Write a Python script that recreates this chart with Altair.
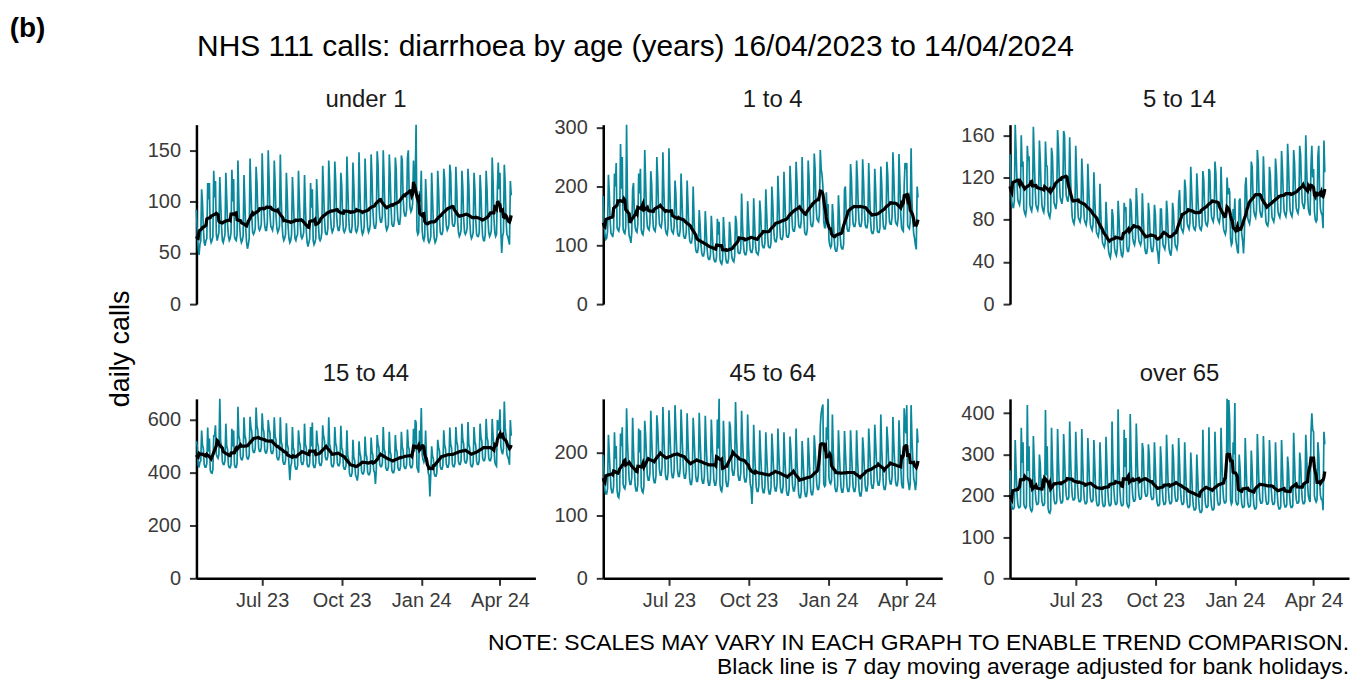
import altair as alt
import pandas as pd

# ---------------- data (daily NHS 111 calls, Sun..Sat per row) ----------------
START = "2023-04-16"
N_DAYS = 365

under_1 = [
    92, 70, 55, 48, 58, 62, 112,
    99, 74, 60, 57, 62, 64, 118,
    102, 118, 64, 60, 62, 66, 130,
    104, 120, 68, 62, 66, 70, 124,
    100, 76, 62, 60, 64, 68, 128,
    104, 78, 66, 62, 64, 70, 131,
    100, 122, 66, 63, 62, 68, 140,
    102, 75, 64, 60, 62, 67, 126,
    98, 74, 60, 54, 58, 64, 142,
    112, 86, 70, 68, 70, 74, 134,
    118, 88, 74, 72, 74, 78, 147,
    116, 90, 76, 72, 72, 80, 150,
    122, 88, 76, 74, 72, 78, 140,
    118, 86, 74, 70, 72, 76, 146,
    104, 78, 66, 62, 64, 68, 128,
    106, 76, 64, 60, 62, 68, 124,
    104, 80, 64, 62, 66, 68, 130,
    102, 78, 66, 64, 66, 70, 126,
    96, 72, 60, 56, 60, 64, 118,
    94, 112, 62, 58, 60, 64, 122,
    100, 78, 64, 62, 64, 70, 135,
    112, 84, 70, 68, 68, 74, 140,
    118, 86, 74, 70, 72, 76, 139,
    120, 88, 76, 72, 72, 78, 128,
    116, 86, 72, 70, 72, 76, 144,
    114, 86, 72, 70, 70, 76, 138,
    116, 88, 72, 70, 72, 78, 148,
    112, 86, 72, 68, 70, 76, 142,
    116, 88, 74, 70, 72, 78, 146,
    124, 92, 78, 74, 74, 80, 149,
    136, 98, 84, 80, 80, 86, 150,
    122, 90, 76, 72, 74, 78, 146,
    126, 94, 78, 76, 76, 82, 143,
    132, 96, 82, 78, 78, 86, 145,
    140, 104, 90, 86, 86, 92, 142,
    150, 108, 94, 90, 92, 98, 140,
    118, 120, 175, 72, 68, 70, 110,
    100, 130, 72, 64, 62, 66, 122,
    102, 76, 62, 60, 62, 66, 128,
    104, 78, 64, 60, 62, 66, 130,
    112, 84, 70, 68, 68, 72, 132,
    122, 90, 76, 72, 74, 78, 136,
    128, 92, 78, 76, 76, 80, 134,
    112, 82, 70, 66, 68, 72, 130,
    114, 84, 70, 68, 70, 74, 132,
    116, 82, 68, 64, 66, 70, 128,
    112, 82, 68, 66, 66, 70, 126,
    110, 80, 66, 62, 62, 68, 130,
    112, 84, 70, 66, 68, 72, 143,
    120, 84, 70, 66, 68, 112, 138,
    112, 128, 72, 50, 66, 70, 136,
    118, 84, 68, 66, 62, 58, 120,
    106,
]

age_1_4 = [
    184, 140, 118, 110, 112, 124, 220,
    190, 142, 120, 118, 114, 126, 222,
    200, 240, 130, 126, 124, 134, 272,
    196, 250, 128, 122, 120, 130, 305,
    180, 138, 116, 112, 104, 122, 195,
    206, 154, 130, 124, 122, 136, 222,
    188, 230, 126, 120, 118, 130, 262,
    210, 156, 132, 128, 126, 138, 226,
    204, 156, 130, 126, 124, 136, 250,
    214, 162, 136, 132, 130, 142, 258,
    198, 152, 126, 120, 118, 132, 265,
    196, 148, 126, 122, 120, 132, 210,
    188, 142, 120, 116, 116, 126, 222,
    180, 138, 116, 112, 112, 122, 210,
    170, 128, 108, 104, 104, 114, 200,
    148, 110, 92, 88, 88, 98, 160,
    136, 102, 86, 82, 82, 90, 158,
    128, 96, 80, 76, 76, 84, 150,
    122, 92, 76, 72, 72, 80, 145,
    118, 140, 76, 70, 68, 76, 148,
    118, 90, 74, 70, 70, 78, 140,
    122, 92, 78, 74, 72, 82, 150,
    140, 106, 88, 86, 86, 94, 188,
    138, 104, 88, 84, 84, 92, 175,
    142, 108, 92, 88, 88, 96, 180,
    140, 104, 88, 86, 84, 92, 176,
    156, 118, 100, 96, 96, 104, 195,
    154, 118, 98, 96, 96, 104, 200,
    172, 130, 110, 106, 106, 116, 218,
    178, 134, 112, 110, 110, 118, 225,
    182, 138, 116, 114, 114, 122, 235,
    200, 152, 128, 124, 124, 134, 242,
    210, 160, 134, 130, 130, 142, 250,
    192, 146, 122, 118, 118, 128, 244,
    214, 162, 136, 132, 132, 142, 256,
    230, 172, 146, 142, 140, 152, 262,
    230, 220, 200, 140, 130, 130, 190,
    150, 170, 110, 100, 96, 100, 170,
    148, 112, 94, 90, 90, 100, 185,
    152, 116, 98, 94, 94, 102, 195,
    200, 152, 128, 124, 124, 134, 238,
    214, 162, 136, 132, 132, 142, 244,
    212, 162, 136, 132, 132, 142, 246,
    210, 160, 134, 130, 130, 140, 240,
    192, 146, 124, 120, 120, 128, 230,
    196, 148, 124, 122, 122, 130, 234,
    206, 156, 132, 128, 128, 138, 242,
    220, 168, 140, 136, 136, 148, 258,
    218, 166, 140, 136, 134, 146, 255,
    210, 154, 130, 126, 124, 200, 240,
    230, 240, 134, 130, 128, 140, 265,
    176, 142, 120, 112, 100, 93, 200,
    181,
]

age_5_14 = [
    142, 114, 97, 93, 91, 98, 170,
    146, 117, 99, 96, 94, 100, 160,
    130, 135, 90, 86, 84, 90, 150,
    136, 140, 94, 90, 88, 94, 168,
    139, 111, 94, 91, 89, 95, 155,
    136, 109, 93, 89, 87, 94, 154,
    132, 130, 88, 84, 82, 88, 148,
    141, 113, 96, 93, 90, 97, 165,
    149, 119, 101, 98, 95, 102, 164,
    160, 121, 103, 99, 97, 104, 158,
    120, 96, 82, 78, 76, 82, 150,
    121, 97, 82, 80, 78, 83, 138,
    118, 94, 80, 77, 75, 81, 133,
    110, 88, 75, 72, 70, 76, 125,
    100, 80, 68, 66, 64, 69, 114,
    85, 68, 58, 56, 54, 58, 97,
    78, 60, 50, 46, 44, 50, 90,
    84, 64, 52, 48, 46, 52, 98,
    82, 62, 52, 46, 45, 50, 96,
    88, 92, 54, 50, 50, 56, 100,
    96, 76, 62, 58, 56, 62, 110,
    94, 72, 60, 58, 56, 60, 105,
    84, 64, 52, 48, 48, 54, 96,
    86, 66, 54, 50, 50, 56, 94,
    86, 64, 52, 48, 38, 54, 90,
    90, 68, 56, 54, 52, 58, 98,
    86, 64, 52, 48, 46, 54, 96,
    88, 68, 56, 54, 52, 58, 98,
    108, 85, 72, 70, 68, 73, 118,
    110, 89, 76, 73, 71, 77, 130,
    108, 87, 74, 71, 70, 75, 124,
    106, 87, 74, 71, 70, 75, 126,
    118, 92, 78, 75, 74, 79, 128,
    126, 98, 83, 80, 78, 84, 135,
    124, 96, 82, 79, 77, 83, 130,
    102, 83, 71, 68, 66, 71, 120,
    104, 110, 106, 62, 56, 58, 90,
    80, 100, 62, 56, 50, 48, 98,
    100, 78, 66, 60, 48, 66, 112,
    120, 95, 81, 78, 76, 82, 135,
    130, 103, 88, 84, 82, 89, 146,
    134, 103, 88, 84, 82, 89, 140,
    116, 92, 78, 75, 74, 79, 130,
    122, 97, 82, 80, 78, 83, 138,
    126, 102, 87, 84, 82, 88, 145,
    128, 104, 88, 85, 83, 89, 152,
    132, 104, 88, 85, 83, 89, 146,
    134, 107, 91, 88, 86, 92, 150,
    142, 113, 96, 93, 90, 97, 160,
    128, 106, 90, 86, 84, 130, 150,
    120, 128, 88, 80, 78, 80, 140,
    150, 106, 90, 86, 84, 72, 155,
    125,
]

age_15_44 = [
    520, 500, 430, 420, 440, 445, 560,
    505, 491, 431, 421, 421, 435, 571,
    480, 530, 410, 400, 398, 412, 540,
    540, 580, 470, 460, 455, 470, 680,
    518, 504, 442, 432, 432, 446, 586,
    502, 488, 428, 419, 419, 432, 567,
    500, 560, 430, 420, 420, 435, 650,
    540, 525, 460, 450, 450, 465, 610,
    542, 527, 462, 452, 452, 467, 612,
    572, 557, 488, 477, 477, 493, 647,
    577, 561, 491, 481, 481, 497, 625,
    570, 554, 486, 475, 475, 491, 600,
    567, 551, 483, 473, 473, 488, 610,
    540, 525, 460, 450, 450, 465, 610,
    519, 505, 443, 433, 433, 447, 587,
    508, 494, 432, 372, 423, 437, 573,
    497, 483, 423, 414, 414, 428, 561,
    518, 504, 442, 432, 432, 446, 586,
    508, 494, 432, 423, 423, 437, 573,
    500, 590, 430, 420, 420, 440, 560,
    513, 499, 437, 428, 428, 442, 580,
    540, 525, 460, 450, 450, 465, 610,
    508, 494, 432, 423, 423, 437, 573,
    512, 498, 436, 427, 427, 441, 578,
    497, 483, 423, 414, 414, 428, 561,
    464, 452, 396, 387, 387, 400, 525,
    459, 446, 391, 383, 370, 395, 519,
    475, 462, 405, 396, 396, 409, 537,
    472, 459, 402, 393, 393, 406, 533,
    481, 467, 409, 400, 358, 414, 543,
    508, 494, 432, 423, 423, 437, 573,
    491, 478, 419, 410, 410, 423, 555,
    481, 467, 409, 400, 400, 414, 543,
    491, 478, 419, 410, 410, 423, 555,
    499, 485, 425, 416, 416, 430, 564,
    502, 488, 428, 419, 419, 432, 567,
    480, 600, 590, 420, 410, 400, 560,
    500, 645, 470, 450, 440, 450, 560,
    460, 450, 400, 390, 310, 400, 500,
    464, 452, 396, 387, 387, 400, 525,
    497, 483, 423, 414, 414, 428, 561,
    505, 491, 431, 421, 421, 435, 571,
    508, 494, 432, 423, 423, 437, 573,
    518, 504, 442, 432, 432, 446, 586,
    524, 509, 446, 437, 437, 451, 592,
    508, 494, 432, 423, 423, 437, 573,
    518, 504, 442, 432, 432, 446, 586,
    535, 520, 455, 446, 446, 460, 604,
    535, 520, 455, 446, 446, 460, 604,
    540, 500, 440, 430, 425, 600, 580,
    560, 640, 500, 480, 470, 490, 670,
    570, 540, 470, 460, 450, 430, 600,
    540,
]

age_45_64 = [
    196, 166, 140, 134, 134, 143, 228,
    199, 169, 143, 136, 136, 146, 232,
    190, 210, 140, 130, 128, 140, 230,
    210, 240, 150, 144, 142, 150, 270,
    218, 186, 157, 149, 149, 160, 255,
    204, 173, 146, 139, 139, 150, 238,
    200, 235, 145, 138, 136, 146, 250,
    228, 194, 163, 156, 156, 167, 266,
    222, 189, 159, 152, 152, 163, 259,
    240, 204, 172, 164, 164, 176, 272,
    229, 195, 164, 157, 157, 168, 267,
    234, 199, 168, 160, 160, 172, 275,
    238, 202, 170, 162, 162, 174, 268,
    233, 198, 167, 159, 159, 171, 262,
    218, 186, 157, 149, 149, 160, 255,
    226, 192, 162, 154, 154, 165, 263,
    221, 188, 158, 151, 151, 162, 258,
    216, 184, 155, 148, 148, 158, 252,
    216, 184, 155, 148, 148, 158, 252,
    206, 285, 150, 140, 138, 148, 250,
    214, 182, 153, 146, 146, 157, 249,
    240, 204, 172, 164, 164, 176, 280,
    228, 194, 163, 156, 156, 167, 266,
    223, 190, 160, 153, 153, 164, 260,
    209, 177, 150, 143, 118, 153, 244,
    202, 171, 144, 138, 138, 148, 235,
    199, 169, 143, 136, 136, 146, 232,
    197, 167, 141, 134, 134, 144, 230,
    204, 173, 146, 139, 139, 150, 238,
    199, 169, 143, 136, 136, 146, 232,
    193, 164, 138, 132, 132, 142, 225,
    204, 173, 146, 139, 139, 150, 238,
    187, 159, 134, 128, 128, 137, 218,
    191, 162, 137, 130, 130, 140, 223,
    194, 165, 139, 133, 133, 143, 227,
    206, 175, 148, 141, 141, 151, 241,
    262, 270, 276, 150, 146, 148, 240,
    220, 285, 160, 152, 150, 156, 260,
    202, 171, 144, 138, 138, 148, 235,
    200, 170, 144, 137, 137, 147, 234,
    202, 171, 144, 138, 138, 148, 235,
    202, 171, 144, 138, 138, 148, 235,
    192, 163, 138, 131, 131, 141, 224,
    204, 173, 146, 139, 139, 150, 238,
    209, 177, 150, 143, 143, 153, 244,
    216, 184, 155, 148, 148, 158, 260,
    206, 175, 148, 141, 141, 151, 241,
    220, 187, 157, 150, 150, 161, 256,
    215, 183, 154, 147, 147, 158, 251,
    211, 180, 151, 144, 144, 270, 246,
    230, 275, 160, 150, 140, 150, 275,
    222, 189, 159, 152, 140, 152, 238,
    215,
]

over_65 = [
    262, 204, 176, 168, 168, 172, 335,
    267, 208, 180, 171, 171, 175, 365,
    280, 330, 180, 172, 170, 175, 420,
    260, 320, 175, 165, 162, 168, 345,
    281, 219, 189, 179, 179, 184, 300,
    277, 216, 186, 177, 177, 182, 408,
    250, 320, 170, 160, 158, 165, 365,
    283, 220, 190, 181, 181, 186, 362,
    287, 223, 193, 183, 183, 188, 350,
    299, 233, 201, 191, 191, 196, 380,
    296, 231, 199, 190, 190, 194, 355,
    290, 226, 195, 186, 186, 190, 362,
    283, 220, 190, 181, 181, 186, 340,
    290, 226, 195, 186, 186, 190, 335,
    275, 214, 185, 176, 176, 180, 330,
    272, 212, 183, 174, 174, 178, 343,
    276, 215, 185, 176, 176, 181, 380,
    281, 219, 189, 179, 179, 184, 410,
    275, 214, 185, 176, 176, 180, 360,
    270, 340, 185, 175, 172, 178, 398,
    293, 228, 197, 187, 187, 192, 375,
    300, 234, 202, 192, 192, 197, 328,
    311, 242, 209, 199, 199, 204, 325,
    299, 233, 201, 191, 191, 196, 330,
    275, 214, 185, 176, 176, 180, 320,
    281, 219, 189, 179, 179, 184, 348,
    283, 220, 190, 181, 181, 186, 325,
    293, 228, 197, 187, 187, 192, 340,
    281, 219, 189, 179, 179, 184, 330,
    268, 209, 180, 172, 172, 176, 305,
    260, 202, 175, 166, 166, 170, 300,
    250, 195, 168, 160, 160, 164, 360,
    268, 209, 180, 172, 172, 176, 366,
    260, 202, 175, 166, 166, 170, 355,
    278, 217, 187, 178, 178, 182, 365,
    285, 222, 192, 183, 183, 187, 435,
    300, 432, 380, 190, 180, 185, 330,
    300, 425, 190, 180, 178, 182, 300,
    268, 209, 180, 172, 172, 176, 340,
    271, 211, 182, 173, 173, 178, 310,
    264, 205, 177, 168, 168, 173, 350,
    284, 221, 191, 182, 182, 186, 345,
    282, 219, 189, 180, 180, 185, 335,
    281, 219, 189, 179, 179, 184, 330,
    264, 205, 177, 168, 168, 173, 335,
    271, 211, 182, 173, 173, 178, 295,
    268, 209, 180, 172, 172, 176, 353,
    284, 221, 191, 182, 182, 186, 305,
    283, 220, 190, 181, 181, 186, 348,
    300, 230, 200, 190, 185, 350, 400,
    360, 355, 200, 190, 185, 190, 330,
    299, 233, 201, 191, 191, 165, 355,
    325,
]

panel_names = ["under 1", "1 to 4", "5 to 14", "15 to 44", "45 to 64", "over 65"]
panel_values = [under_1, age_1_4, age_5_14, age_15_44, age_45_64, over_65]
y_ticks = [
    [0, 50, 100, 150],
    [0, 100, 200, 300],
    [0, 40, 80, 120, 160],
    [0, 200, 400, 600],
    [0, 100, 200],
    [0, 100, 200, 300, 400],
]
x_tick_dates = [(2023, 7, 1), (2023, 10, 1), (2024, 1, 1), (2024, 4, 1)]
x_domain = [(2023, 4, 16), (2024, 5, 12)]

main_title = "NHS 111 calls: diarrhoea by age (years) 16/04/2023 to 14/04/2024"
y_title = "daily calls"
notes = [
    "NOTE: SCALES MAY VARY IN EACH GRAPH TO ENABLE TREND COMPARISON.",
    "Black line is 7 day moving average adjusted for bank holidays.",
]

# ---------------- styling ----------------
FONT = "Liberation Sans"
TEAL = "#0a889c"
W, H = 340, 180

dates = pd.date_range(START, periods=N_DAYS, freq="D").strftime("%Y-%m-%d")


def dt(t):
    return alt.DateTime(year=t[0], month=t[1], date=t[2], utc=True)


def panel(name, values, ticks, bottom, title_offset):
    df = pd.DataFrame({"date": list(dates), "calls": values})
    if bottom:
        xaxis = alt.Axis(values=[dt(t) for t in x_tick_dates], format="%b %y",
                         title=None, grid=False, tickSize=7, labelPadding=5)
    else:
        xaxis = None
    x = alt.X("date:T", scale=alt.Scale(type="utc", domain=[dt(t) for t in x_domain]),
              axis=xaxis)
    y = alt.Y("calls:Q", scale=alt.Scale(domain=[0, max(values)], nice=False),
              axis=alt.Axis(values=ticks, title=None, grid=False, tickSize=7, labelPadding=9))
    base = alt.Chart(df)
    daily = base.mark_line(color=TEAL, strokeWidth=1.7).encode(x=x, y=y)
    avg = base.transform_window(
        ma="mean(calls)", frame=[-3, 3], sort=[alt.SortField("date", order="ascending")]
    ).mark_line(color="black", strokeWidth=3.2).encode(x=x, y=alt.Y("ma:Q"))
    return alt.layer(daily, avg).properties(
        width=W, height=H,
        title=alt.TitleParams(name, fontSize=24, fontWeight="normal", font=FONT,
                              color="#1a1a1a", anchor="middle", frame="group",
                              offset=title_offset),
    )


title_offsets = [9, 6, 9, 9, 9, 9]
panels = [
    panel(n, v, t, i >= 3, o)
    for i, (n, v, t, o) in enumerate(zip(panel_names, panel_values, y_ticks, title_offsets))
]
row1 = alt.hconcat(*panels[:3], spacing=18)
row2 = alt.hconcat(*panels[3:], spacing=18)

grid = alt.vconcat(row1, row2, spacing=48).properties(
    title=alt.TitleParams(y_title, orient="left", anchor="middle", fontSize=27,
                          fontWeight="normal", font=FONT, color="black", offset=12)
)
with_notes = alt.vconcat(grid).properties(
    title=alt.TitleParams(notes, orient="bottom", anchor="end", fontSize=23,
                          fontWeight="normal", font=FONT, color="black",
                          lineHeight=24, offset=22)
)
with_main = alt.vconcat(with_notes).properties(
    title=alt.TitleParams(main_title, anchor="start", fontSize=30, fontWeight="normal",
                          font=FONT, color="black", offset=26, dx=90)
)
chart = alt.vconcat(with_main).properties(
    padding={"left": 1, "top": 5, "right": 5, "bottom": 5},
    title=alt.TitleParams("(b)", anchor="start", fontSize=28, fontWeight="bold",
                          font=FONT, color="black", dx=-98, offset=-11),
).configure_view(stroke=None).configure_axis(
    domainColor="black", domainWidth=2.5, tickColor="#333333", tickWidth=2,
    labelFont=FONT, labelFontSize=20, labelColor="#3a3a3a",
)

chart.save("out.html", embed_options={"renderer": "svg", "actions": False})
